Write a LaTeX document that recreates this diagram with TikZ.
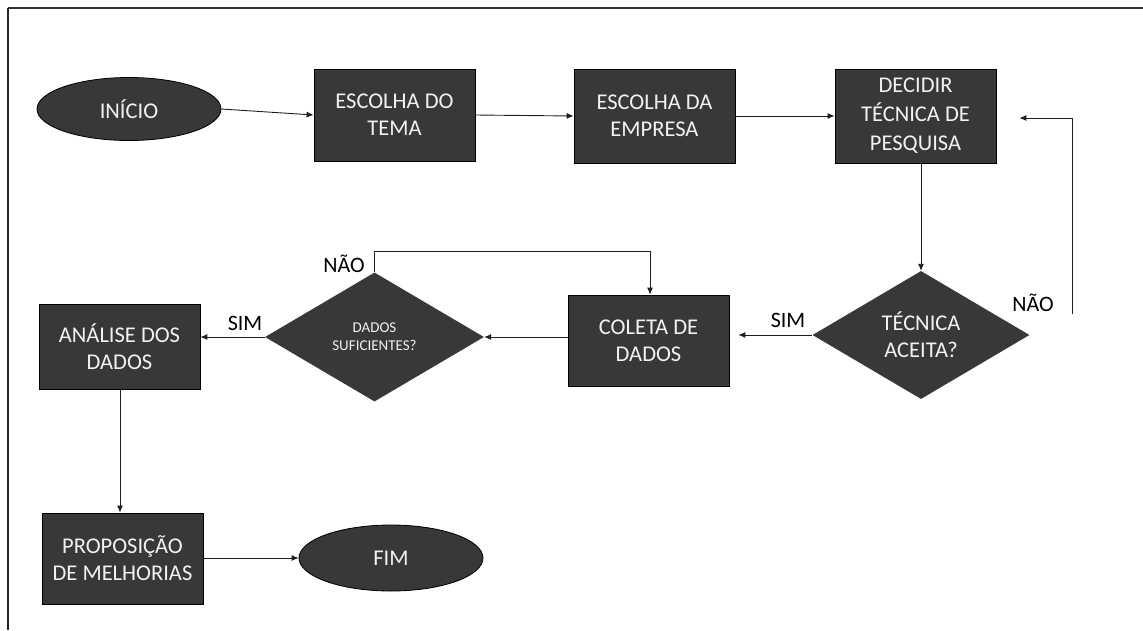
\documentclass[tikz,border=0pt]{standalone}
\usepackage{fontspec}
\setmainfont{Carlito}
\usetikzlibrary{shapes.geometric,arrows.meta,calc}
\definecolor{boxfill}{RGB}{58,56,54}
\definecolor{boxtext}{RGB}{242,242,242}
\definecolor{linecol}{RGB}{30,30,30}
\begin{document}
\begin{tikzpicture}[x=1pt,y=-1pt,
  every node/.style={font=\fontsize{22.5}{27}\selectfont, inner sep=0pt},
  procbox/.style={rectangle, draw=black, line width=0.8pt, fill=boxfill,
    text=boxtext, align=center, minimum width=161pt},
  termin/.style={ellipse, draw=black, line width=0.8pt, fill=boxfill,
    text=boxtext, align=center, minimum width=184pt},
  decis/.style={diamond, fill=boxfill, text=boxtext, align=center},
  conn/.style={draw=linecol, line width=0.9pt, -{Latex[length=7pt,width=6pt]}},
  lbl/.style={text=black, font=\fontsize{22}{26}\selectfont}
]
\useasboundingbox (0,0) rectangle (1143,630);

% page frame
\draw[line width=2pt, draw=black!80] (8,8) -- (1143,8);
\draw[line width=1.4pt, draw=black!85] (8,8) -- (8,630);

% top row
\node[termin, minimum height=63pt] (inicio) at (129,109) {INÍCIO};
\node[procbox, minimum height=92pt] (tema) at (394.5,115) {ESCOLHA DO\\TEMA};
\node[procbox, minimum height=94pt] (empresa) at (654.5,116) {ESCOLHA DA\\EMPRESA};
\node[procbox, minimum height=94pt, font=\fontsize{22.5}{29}\selectfont] (decidir) at (915.5,116) {DECIDIR\\TÉCNICA DE\\PESQUISA};

% middle row
\node[decis, minimum width=217pt, minimum height=128pt, aspect=1.7] (tecnica) at (921,335) {};
\node[text=boxtext, align=center] at (tecnica) {TÉCNICA\\ACEITA?};
\node[procbox, minimum height=91pt] (coleta) at (648.5,340.5) {COLETA DE\\DADOS};
\node[decis, minimum width=219pt, minimum height=129pt, aspect=1.7] (dados) at (374.5,337) {};
\node[text=boxtext, align=center, font=\fontsize{15}{18}\selectfont] at (dados) {DADOS\\SUFICIENTES?};
\node[procbox, minimum height=85pt] (analise) at (119.5,346.5) {ANÁLISE DOS\\DADOS};

% bottom row
\node[procbox, minimum height=91pt] (proposicao) at (122.5,558.5) {PROPOSIÇÃO\\DE MELHORIAS};
\node[termin, minimum height=66pt] (fim) at (391,558) {FIM};

% connectors
\draw[conn] (inicio.east) -- (tema.west);
\draw[conn] (tema.east) -- (empresa.west);
\draw[conn] (empresa.east) -- (decidir.west);
\draw[conn] (decidir.south -| tecnica.north) -- (tecnica.north);

\coordinate (naostart) at (1072,314);
\draw[conn, shorten >=23pt] (naostart) |- ($(decidir.east)+(0,2)$);

\draw[conn, shorten >=9pt] (tecnica.west) -- (tecnica.west -| coleta.east);
\draw[conn] (coleta.west |- dados.east) -- (dados.east);
\draw[conn] (dados.west) -- (dados.west -| analise.east);
\draw[conn] (dados.north) -- ++(0,-21) -| ($(coleta.north)+(1.5,0)$);
\draw[conn] (analise.south -| 120,0) -- (proposicao.north -| 120,0);
\draw[conn] (proposicao.east |- fim.west) -- (fim.west);

% branch labels
\node[lbl] at (788,320) {SIM};
\node[lbl] at (1033,303) {NÃO};
\node[lbl] at (344,264) {NÃO};
\node[lbl] at (245,323) {SIM};
\end{tikzpicture}
\end{document}
